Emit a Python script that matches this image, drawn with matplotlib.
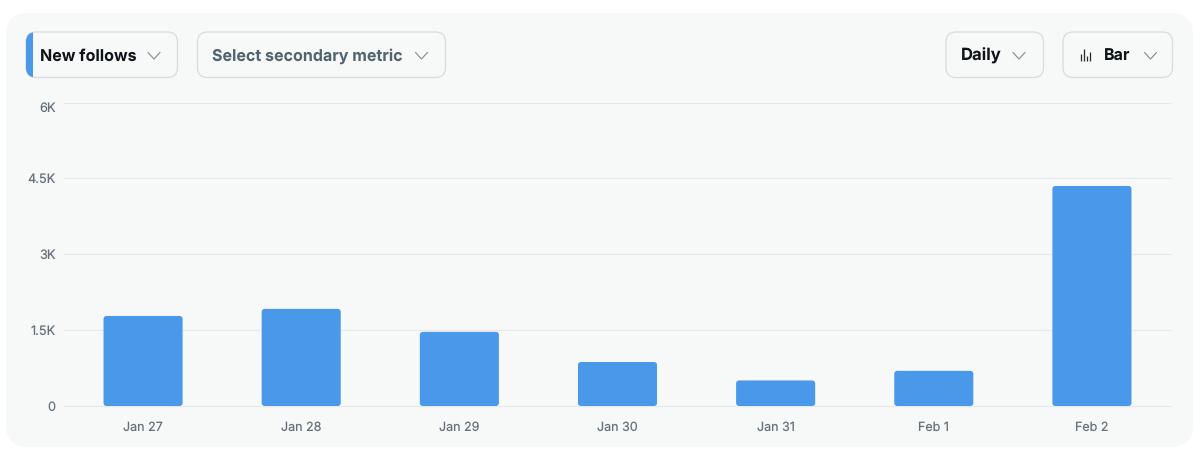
import matplotlib.pyplot as plt
from matplotlib.patches import FancyBboxPatch, Rectangle

days = ['Jan 27', 'Jan 28', 'Jan 29', 'Jan 30', 'Jan 31', 'Feb 1', 'Feb 2']
new_follows = [1780, 1920, 1465, 870, 505, 695, 4350]
y_ticks = [0, 1500, 3000, 4500, 6000]
y_labels = ['0', '1.5K', '3K', '4.5K', '6K']

W, H = 1200, 449
BLUE = '#4a98e9'
BORDER = '#d6dce2'
GRID = '#e6e9ec'
PANEL = '#f7f8f8'

plt.rcParams['font.family'] = ['Inter', 'DejaVu Sans']
plt.rcParams['text.hinting'] = 'no_hinting'

fig = plt.figure(figsize=(12, 4.49), dpi=100, facecolor='white')

# page layer in pixel coordinates for the panel and the dropdown buttons
page = fig.add_axes([0, 0, 1, 1])
page.set_xlim(0, W)
page.set_ylim(H, 0)
page.axis('off')


def rounded(x0, y0, x1, y1, r, **kw):
    box = FancyBboxPatch((x0, y0), x1 - x0, y1 - y0,
                         boxstyle='round,pad=0,rounding_size=%g' % r, **kw)
    page.add_patch(box)
    return box


def chevron(cx, cy, color='#878f96'):
    page.plot([cx - 6, cx, cx + 6], [cy - 3, cy + 3.5, cy - 3],
              color=color, lw=0.85, solid_capstyle='round')


def button(x0, x1, label, text_x, arrow_x, color='#0f1419', size=11.55):
    rounded(x0, 32, x1, 77.5, 10, fc=PANEL, ec=BORDER, lw=0.9)
    page.text(text_x, 54.5, label, color=color, fontsize=size, fontweight='bold',
              ha='left', va='center_baseline')
    chevron(arrow_x, 55.5)


rounded(6, 13, 1193, 447, 22, fc=PANEL, ec='none')

button(26, 177.5, 'New follows', 40, 154)
button(197.5, 445.5, 'Select secondary metric', 212, 421.5, color='#536471')
button(946, 1043.5, 'Daily', 961, 1019, size=12)
button(1063, 1172.5, 'Bar', 1103.5, 1150.5)

# blue tab on the first button, cut to the button's rounded corners
tab = Rectangle((26, 32), 7, 45.5, fc=BLUE, ec='none')
page.add_patch(tab)
tab.set_clip_path(rounded(26, 32, 177.5, 77.5, 10, fc='none', ec='none'))

# small bar icon in the chart type button
for x, top in zip([1080.5, 1083.5, 1086.5, 1089.5], [54, 49, 56, 52]):
    page.plot([x, x], [top, 61], color='#25292d', lw=0.9, solid_capstyle='butt')

# chart layer
ax = fig.add_axes([64 / W, 1 - 406 / H, (1171 - 64) / W, (406 - 102.5) / H])
ax.patch.set_alpha(0)
ax.set_xlim(-0.5, 6.5)
ax.set_ylim(0, 6000)
for s in ax.spines.values():
    s.set_visible(False)

ax.set_yticks(y_ticks, y_labels)
ax.set_xticks(range(len(days)), days)
ax.tick_params(axis='both', length=0, labelsize=9.2, labelcolor='#66727b')
ax.tick_params(axis='y', pad=6.2)
ax.tick_params(axis='x', pad=11, labelsize=9.0)
for lab in ax.get_yticklabels() + ax.get_xticklabels():
    lab.set_clip_on(False)
# top label hangs below its gridline
ax.get_yticklabels()[-1].set_verticalalignment('top')
ax.grid(True, axis='y', color=GRID, lw=0.85, clip_on=False)
ax.set_axisbelow(True)

# bars with slightly rounded corners, aspect evens out the x and y data scales
bar_w = 0.5
aspect = (6000 / 303.5) * (158 / 1.0)
for i, v in enumerate(new_follows):
    ax.add_patch(FancyBboxPatch((i - bar_w / 2, 0), bar_w, v,
                                boxstyle='round,pad=0,rounding_size=0.02',
                                mutation_aspect=aspect, fc=BLUE, ec='none', zorder=3))

fig.savefig('out.png', dpi=100, facecolor='white')
